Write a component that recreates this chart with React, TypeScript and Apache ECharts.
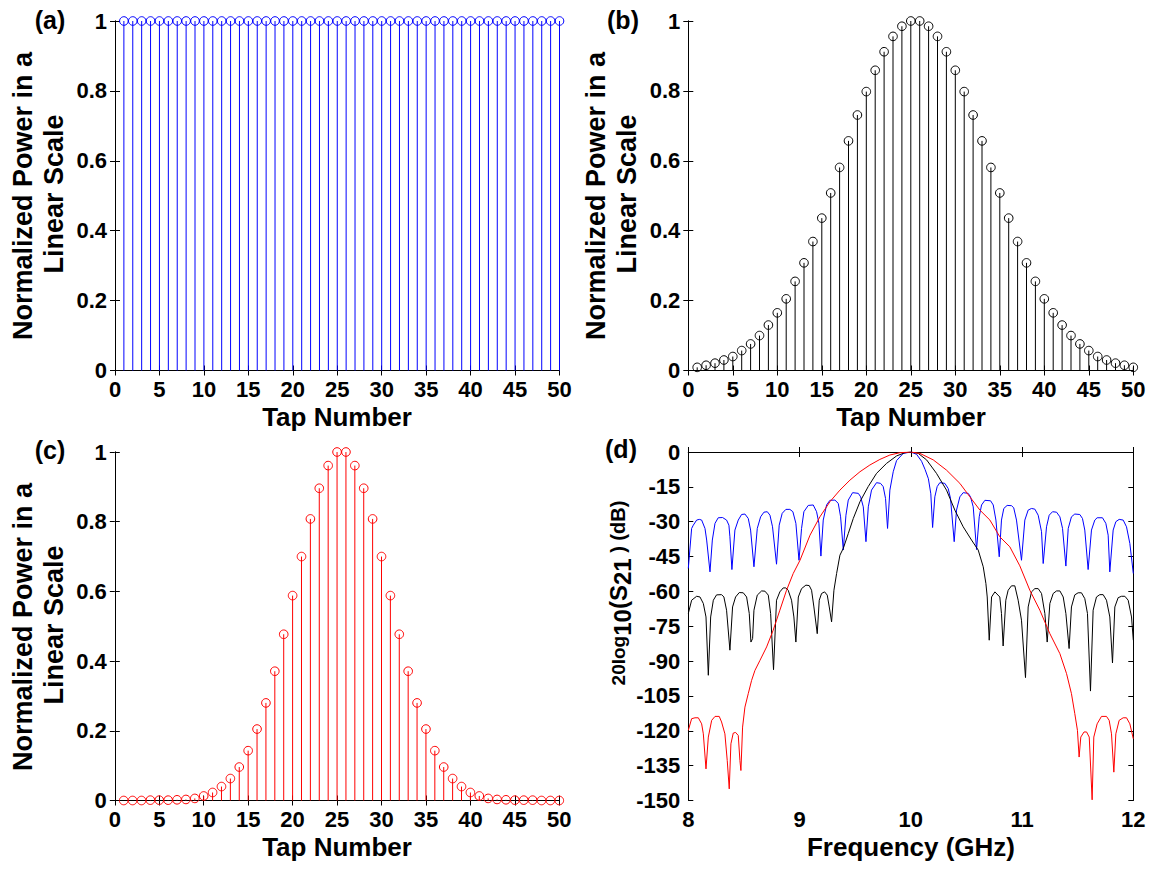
import React, { useEffect, useRef } from "react";
import * as echarts from "echarts";

// Tap indices shared by the three weighting windows
const tapNumbers = [
  1, 2, 3, 4, 5, 6, 7, 8, 9, 10, 11, 12, 13, 14, 15, 16, 17, 18, 19, 20, 21, 22, 23, 24, 25,
  26, 27, 28, 29, 30, 31, 32, 33, 34, 35, 36, 37, 38, 39, 40, 41, 42, 43, 44, 45, 46, 47, 48, 49, 50,
];

// (a) uniform window
const uniformTaps = [
  1, 1, 1, 1, 1, 1, 1, 1, 1, 1, 1, 1, 1, 1, 1, 1, 1, 1, 1, 1, 1, 1, 1, 1, 1,
  1, 1, 1, 1, 1, 1, 1, 1, 1, 1, 1, 1, 1, 1, 1, 1, 1, 1, 1, 1, 1, 1, 1, 1, 1,
];

// (b) Gaussian window
const gaussianTaps = [
  0.009, 0.015, 0.021, 0.03, 0.04, 0.057, 0.076, 0.1, 0.13, 0.165, 0.205, 0.255, 0.308, 0.369, 0.436,
  0.508, 0.581, 0.657, 0.731, 0.798, 0.859, 0.912, 0.956, 0.985, 1.0,
  1.0, 0.985, 0.956, 0.912, 0.859, 0.798, 0.731, 0.657, 0.581, 0.508, 0.436, 0.369, 0.308, 0.255, 0.205,
  0.165, 0.13, 0.1, 0.076, 0.057, 0.04, 0.03, 0.021, 0.015, 0.009,
];

// (c) narrow Gaussian window
const narrowTaps = [
  0.0, 0.0, 0.0, 0.001, 0.001, 0.001, 0.002, 0.003, 0.006, 0.013, 0.023, 0.04, 0.063, 0.096, 0.143,
  0.205, 0.28, 0.371, 0.477, 0.588, 0.7, 0.808, 0.896, 0.961, 1.0,
  1.0, 0.961, 0.896, 0.808, 0.7, 0.588, 0.477, 0.371, 0.28, 0.205, 0.143, 0.096, 0.063, 0.04, 0.023,
  0.013, 0.006, 0.003, 0.002, 0.001, 0.001, 0.001, 0.0, 0.0, 0.0,
];

// (d) filter responses: [frequency GHz, 20log10|S21| dB]
const uniformResponse = [
  [8.0, -50.1], [8.03, -32.9], [8.045, -31.5], [8.075, -29.3], [8.099, -29.0], [8.12, -29.3], [8.15, -32.9], [8.165, -37.9], [8.195, -51.6],
  [8.216, -37.9], [8.24, -30.7], [8.269, -28.3], [8.308, -28.2], [8.344, -29.3], [8.365, -31.5], [8.374, -36.5], [8.392, -50.6],
  [8.419, -33.6], [8.449, -29.3], [8.479, -26.9], [8.509, -26.7], [8.539, -28.6], [8.56, -33.6], [8.59, -49.4],
  [8.62, -32.9], [8.65, -27.9], [8.68, -25.9], [8.71, -25.7], [8.734, -27.2], [8.757, -32.2], [8.793, -48.3],
  [8.817, -31.5], [8.844, -26.4], [8.877, -24.7], [8.913, -24.7], [8.94, -25.7], [8.967, -30.7], [8.995, -46.6],
  [9.018, -32.9], [9.039, -25.7], [9.078, -23.0], [9.123, -22.8], [9.153, -25.7], [9.174, -30.7], [9.192, -44.8],
  [9.213, -29.3], [9.243, -22.8], [9.273, -20.8], [9.318, -20.7], [9.348, -22.1], [9.369, -27.9], [9.393, -42.2],
  [9.417, -27.2], [9.438, -20.7], [9.477, -17.5], [9.528, -17.8], [9.549, -19.3], [9.573, -23.6], [9.597, -38.6],
  [9.618, -23.6], [9.647, -16.4], [9.692, -13.2], [9.728, -13.5], [9.752, -14.9], [9.773, -20.0], [9.791, -32.9],
  [9.812, -16.4], [9.842, -8.5], [9.872, -3.7], [9.932, -0.6], [10.0, 0],
  [10.052, -1.0], [10.097, -4.0], [10.128, -7.5], [10.158, -11.5], [10.18, -18.0], [10.196, -32.5],
  [10.216, -19.3], [10.237, -14.9], [10.261, -13.2], [10.306, -13.5], [10.336, -15.7], [10.357, -20.0], [10.39, -38.6],
  [10.411, -25.0], [10.441, -19.3], [10.471, -17.5], [10.516, -17.8], [10.537, -19.3], [10.561, -23.6], [10.591, -42.0],
  [10.615, -27.9], [10.636, -22.8], [10.666, -20.8], [10.717, -21.0], [10.741, -22.8], [10.765, -29.3], [10.795, -45.1],
  [10.815, -29.3], [10.836, -24.3], [10.866, -23.0], [10.905, -23.1], [10.925, -24.0], [10.95, -29.3], [10.995, -46.6],
  [11.025, -29.3], [11.055, -25.0], [11.085, -24.3], [11.115, -24.6], [11.145, -27.2], [11.175, -34.3], [11.19, -48.0],
  [11.22, -32.2], [11.244, -27.2], [11.274, -25.7], [11.31, -25.9], [11.34, -27.9], [11.364, -32.9], [11.394, -49.1],
  [11.415, -32.9], [11.444, -27.9], [11.474, -26.7], [11.519, -26.9], [11.543, -28.6], [11.564, -33.6], [11.594, -50.6],
  [11.624, -33.6], [11.654, -29.3], [11.675, -28.3], [11.723, -28.3], [11.753, -30.7], [11.774, -35.8], [11.789, -51.6],
  [11.819, -33.6], [11.843, -30.0], [11.873, -29.0], [11.909, -29.3], [11.939, -32.2], [11.969, -39.4], [12.0, -52.3],
];

const gaussianResponse = [
  [8.0, -69.5], [8.03, -63.8], [8.075, -62.1], [8.105, -62.4], [8.135, -65.2], [8.159, -71.0], [8.18, -96.1],
  [8.201, -71.0], [8.225, -63.8], [8.254, -61.5], [8.299, -61.4], [8.32, -62.4], [8.344, -68.1], [8.374, -85.3],
  [8.398, -66.7], [8.425, -62.4], [8.458, -60.5], [8.494, -60.6], [8.524, -62.4], [8.548, -69.5], [8.563, -81.8], [8.578, -80.3],
  [8.59, -68.1], [8.62, -61.6], [8.659, -59.8], [8.689, -59.9], [8.719, -61.6], [8.74, -69.5], [8.766, -93.7],
  [8.793, -63.8], [8.823, -60.2], [8.853, -58.5], [8.877, -58.5], [8.898, -59.5], [8.928, -63.8], [8.949, -71.0], [8.967, -81.8],
  [8.989, -62.4], [9.018, -58.8], [9.057, -57.3], [9.087, -57.5], [9.108, -59.5], [9.129, -66.7], [9.159, -78.2],
  [9.177, -63.8], [9.198, -60.9], [9.225, -60.2], [9.249, -61.6], [9.267, -66.7], [9.288, -73.1],
  [9.309, -59.5], [9.333, -52.3], [9.363, -44.4], [9.393, -41.5], [9.438, -35.1], [9.483, -28.6], [9.543, -21.4],
  [9.617, -14.9], [9.692, -9.2], [9.782, -4.9], [9.872, -1.7], [9.947, -0.3], [10.0, 0],
  [10.067, -0.6], [10.142, -3.4], [10.231, -9.2], [10.321, -16.4], [10.396, -25.0], [10.471, -32.2], [10.546, -37.9],
  [10.606, -42.2], [10.651, -49.4], [10.675, -56.6], [10.687, -62.4], [10.705, -81.0],
  [10.726, -62.4], [10.756, -60.2], [10.8, -62.4], [10.815, -69.5], [10.83, -83.5],
  [10.854, -63.8], [10.875, -59.5], [10.905, -57.6], [10.935, -57.6], [10.965, -63.8], [10.995, -72.4], [11.031, -97.1],
  [11.055, -66.7], [11.085, -60.2], [11.115, -58.8], [11.145, -58.8], [11.175, -60.9], [11.205, -69.5], [11.226, -81.8],
  [11.25, -65.2], [11.28, -60.9], [11.31, -59.8], [11.34, -59.8], [11.37, -62.4], [11.394, -69.5], [11.423, -84.6],
  [11.444, -66.7], [11.474, -61.5], [11.504, -60.6], [11.534, -60.6], [11.564, -63.1], [11.588, -69.5], [11.615, -102.9],
  [11.639, -68.1], [11.669, -62.4], [11.699, -61.4], [11.729, -61.4], [11.759, -63.8], [11.789, -71.0], [11.813, -90.8],
  [11.834, -66.7], [11.864, -62.7], [11.894, -62.1], [11.924, -62.1], [11.954, -63.8], [11.984, -71.0], [12.0, -81.0],
];

const narrowResponse = [
  [8.0, -119.8], [8.03, -114.8], [8.06, -114.4], [8.09, -114.4], [8.12, -117.0], [8.135, -121.3], [8.159, -136.4],
  [8.18, -122.7], [8.21, -115.5], [8.24, -113.8], [8.278, -113.8], [8.299, -116.2], [8.329, -121.3], [8.35, -132.8], [8.368, -145.0],
  [8.383, -125.6], [8.404, -121.0], [8.425, -120.7], [8.449, -122.0], [8.464, -132.8], [8.473, -137.1],
  [8.488, -118.4], [8.509, -109.8], [8.539, -104.0], [8.569, -98.3], [8.599, -94.0], [8.644, -89.7], [8.704, -83.9],
  [8.763, -76.7], [8.823, -68.1], [8.883, -59.5], [8.943, -52.3], [9.004, -46.6], [9.094, -35.8], [9.183, -27.9],
  [9.273, -21.4], [9.363, -16.4], [9.453, -12.1], [9.543, -8.5], [9.632, -5.6], [9.722, -3.2], [9.812, -1.3], [9.902, -0.3], [10.0, 0],
  [10.082, -0.6], [10.202, -3.4], [10.321, -7.8], [10.441, -13.5], [10.531, -19.3], [10.621, -25.0], [10.711, -29.3],
  [10.8, -36.5], [10.89, -40.8], [10.98, -49.0], [11.07, -59.5], [11.16, -68.1], [11.25, -78.2], [11.34, -86.8],
  [11.4, -95.4], [11.444, -104.0], [11.474, -112.6], [11.498, -119.8], [11.513, -131.3],
  [11.528, -122.7], [11.557, -120.5], [11.58, -120.5], [11.604, -122.7], [11.63, -149.7],
  [11.645, -122.7], [11.675, -117.0], [11.714, -113.8], [11.759, -113.8], [11.783, -115.5], [11.804, -121.3], [11.825, -137.8],
  [11.843, -121.3], [11.873, -115.5], [11.909, -114.4], [11.939, -114.4], [11.969, -117.0], [12.0, -123.4],
];

const FONT = "'Liberation Sans', Arial, Helvetica, sans-serif";
const BLUE = "#0000ff";
const RED = "#ff0000";
const BLACK = "#000000";

// Plot boxes in page pixels
const boxes = [
  { left: 115, top: 21, width: 444.5, height: 349.5 },
  { left: 688.3, top: 21, width: 445, height: 349.5 },
  { left: 114.8, top: 452, width: 444.5, height: 348.5 },
  { left: 688.3, top: 452, width: 445, height: 348.5 },
];

const tickLabel = { color: BLACK, fontSize: 22, fontWeight: "bold" as const, fontFamily: FONT };

function makeAxes(i: number, x: { min: number; max: number; interval: number }, y: { min: number; max: number; interval: number }, yFmt: (v: number) => string) {
  const line = { show: true, lineStyle: { color: BLACK, width: 1 } };
  const tick = { show: true, inside: true, length: 5, lineStyle: { color: BLACK, width: 1 } };
  const xAxes = [
    { type: "value", gridIndex: i, position: "bottom", ...x, axisLine: line, axisTick: tick, splitLine: { show: false }, axisLabel: { ...tickLabel, margin: 8, showMinLabel: true, showMaxLabel: true } },
    { type: "value", gridIndex: i, position: "top", ...x, axisLine: line, axisTick: tick, splitLine: { show: false }, axisLabel: { show: false } },
  ];
  const yAxes = [
    { type: "value", gridIndex: i, position: "left", ...y, axisLine: line, axisTick: tick, splitLine: { show: false }, axisLabel: { ...tickLabel, margin: 8, formatter: yFmt, showMinLabel: true, showMaxLabel: true } },
    { type: "value", gridIndex: i, position: "right", ...y, axisLine: line, axisTick: tick, splitLine: { show: false }, axisLabel: { show: false } },
  ];
  return { xAxes, yAxes };
}

// Stem plot: a vertical line from zero up to each tap weight, capped with an open circle
function stemSeries(i: number, values: number[], color: string) {
  return {
    type: "custom",
    xAxisIndex: 2 * i,
    yAxisIndex: 2 * i,
    clip: false,
    data: tapNumbers.map((t, k) => [t, values[k]]),
    renderItem: (_params: any, api: any) => {
      const x = api.value(0);
      const y = api.value(1);
      const top = api.coord([x, y]);
      const base = api.coord([x, 0]);
      return {
        type: "group",
        children: [
          { type: "line", shape: { x1: base[0], y1: base[1], x2: top[0], y2: top[1] }, style: { stroke: color, lineWidth: 1 } },
          { type: "circle", shape: { cx: top[0], cy: top[1], r: 4.3 }, style: { fill: "none", stroke: color, lineWidth: 1 } },
        ],
      };
    },
  };
}

function responseSeries(data: number[][], color: string) {
  return {
    type: "line",
    xAxisIndex: 6,
    yAxisIndex: 6,
    data,
    showSymbol: false,
    symbol: "none",
    lineStyle: { color, width: 1 },
    clip: true,
  };
}

const tapYFmt = (v: number) => String(Math.round(v * 10) / 10);
const dbYFmt = (v: number) => String(Math.round(v));

function textEl(text: string, x: number, y: number, size: number, rotation = 0) {
  return {
    type: "text",
    x,
    y,
    rotation,
    style: { text, fill: BLACK, font: `bold ${size}px ${FONT}`, textAlign: "center", textVerticalAlign: "middle" },
  };
}

function runEl(text: string, x: number, y: number, size: number) {
  return {
    type: "text",
    x,
    y,
    style: { text, fill: BLACK, font: `bold ${size}px ${FONT}`, textAlign: "left", textVerticalAlign: "middle" },
  };
}

export default function App() {
  const ref = useRef<HTMLDivElement>(null);
  useEffect(() => {
    if (!ref.current) return;
    const chart = echarts.init(ref.current, null, { renderer: "svg" });
    const tapX = { min: 0, max: 50, interval: 5 };
    const tapY = { min: 0, max: 1, interval: 0.2 };
    const a = makeAxes(0, tapX, tapY, tapYFmt);
    const b = makeAxes(1, tapX, tapY, tapYFmt);
    const c = makeAxes(2, tapX, tapY, tapYFmt);
    const d = makeAxes(3, { min: 8, max: 12, interval: 1 }, { min: -150, max: 0, interval: 15 }, dbYFmt);
    const R = Math.PI / 2;
    chart.setOption({
      animation: false,
      backgroundColor: "#ffffff",
      grid: boxes.map((g) => ({ ...g, containLabel: false })),
      xAxis: [...a.xAxes, ...b.xAxes, ...c.xAxes, ...d.xAxes],
      yAxis: [...a.yAxes, ...b.yAxes, ...c.yAxes, ...d.yAxes],
      series: [
        stemSeries(0, uniformTaps, BLUE),
        stemSeries(1, gaussianTaps, BLACK),
        stemSeries(2, narrowTaps, RED),
        responseSeries(uniformResponse, BLUE),
        responseSeries(gaussianResponse, BLACK),
        responseSeries(narrowResponse, RED),
      ],
      graphic: [
        textEl("(a)", 50, 20, 25),
        textEl("(b)", 623, 20, 25),
        textEl("(c)", 50, 450, 25),
        textEl("(d)", 621, 449, 25),
        textEl("Tap Number", 337, 417, 26),
        textEl("Tap Number", 911, 417, 26),
        textEl("Tap Number", 337, 847, 26),
        textEl("Frequency (GHz)", 911, 847, 26),
        textEl("Normalized Power in a", 23, 196, 27, R),
        textEl("Linear Scale", 54, 194, 27, R),
        textEl("Normalized Power in a", 596, 196, 27, R),
        textEl("Linear Scale", 627, 194, 27, R),
        textEl("Normalized Power in a", 23, 627, 27, R),
        textEl("Linear Scale", 54, 625, 27, R),
        // 20log10(S21) (dB) with lowered subscripts, rotated to read upwards
        {
          type: "group",
          x: 618,
          y: 593,
          rotation: R,
          children: [
            runEl("20log", -92.4, 0, 19),
            runEl("10", -42.8, 4, 24),
            runEl("(S", -16.1, 0, 24),
            runEl("21", 7.9, 4, 24),
            runEl(" ) (dB)", 34.6, 0, 20),
          ],
        },
      ],
    });
    return () => chart.dispose();
  }, []);
  return <div ref={ref} style={{ position: "fixed", left: 0, top: 0, width: 1160, height: 869, background: "#fff" }} />;
}
